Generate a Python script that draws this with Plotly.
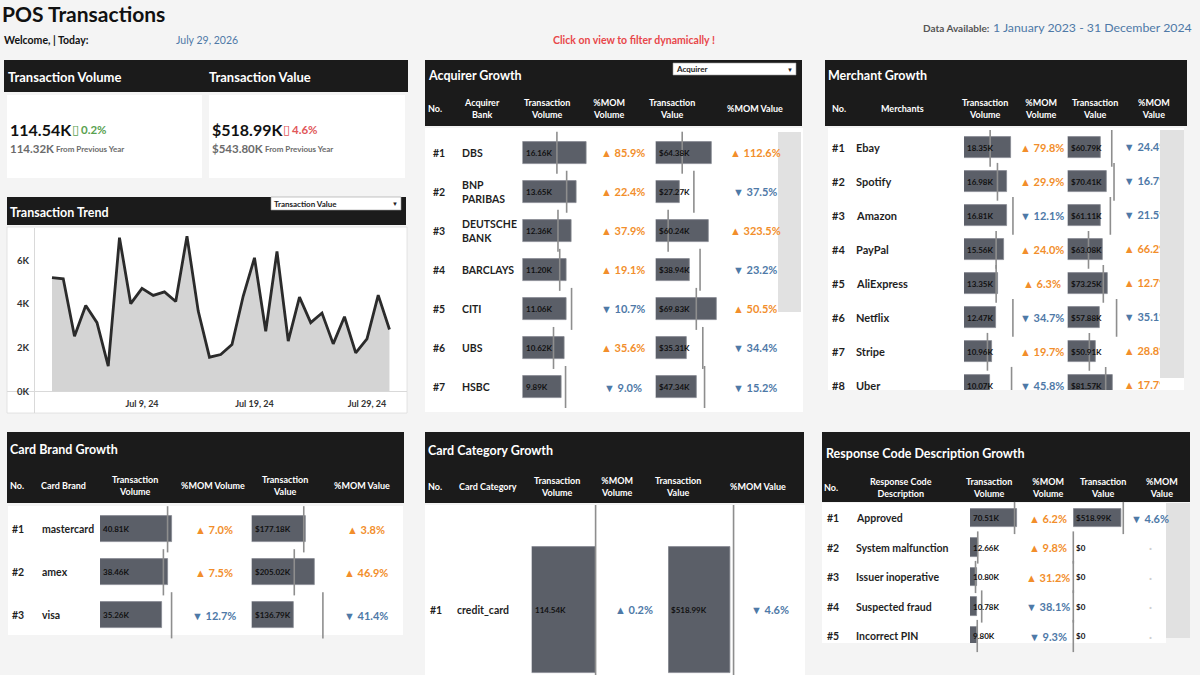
import plotly.graph_objects as go

W, H = 1200, 675
def X(p): return p / W
def Y(p): return 1 - p / H

FONT = "Lato"
ORANGE, BLUE, GREEN, RED = "#f28e2b", "#4e79a7", "#59a14f", "#e15759"
HEAD, BAR, BAR_EDGE, REF, TXT = "#1b1b1b", "#5b5f68", "#868990", "#8e8e8e", "#1f1f1f"
BG, SCROLL = "#f4f4f4", "#e1e1e1"

# ================= DATA =================
kpi_volume, kpi_volume_prev, kpi_volume_pct = 114.54, 114.32, 0.2
kpi_value, kpi_value_prev, kpi_value_pct = 518.99, 543.80, -4.6

trend_dates = ["2024-07-%02d" % d for d in range(1, 32)]
trend_values = [5210, 5160, 2530, 3940, 3150, 1160, 7040, 4020, 4720, 4400, 4560,
                4120, 7110, 3680, 1570, 1690, 2150, 4370, 6120, 2760, 6410, 2310,
                4320, 3150, 3590, 2180, 3420, 1770, 2410, 4410, 2840]
trend_tickvals = ["2024-07-09", "2024-07-19", "2024-07-29"]
trend_ticktext = ["Jul 9, 24", "Jul 19, 24", "Jul 29, 24"]
trend_ytickvals = [0, 2000, 4000, 6000]
trend_yticktext = ["0K", "2K", "4K", "6K"]

acq_names = ["DBS", "BNP<br>PARIBAS", "DEUTSCHE<br>BANK", "BARCLAYS", "CITI", "UBS", "HSBC"]
acq_vol = [16.16, 13.65, 12.36, 11.20, 11.06, 10.62, 9.89]
acq_vol_prev = [8.69, 11.15, 8.96, 9.40, 12.39, 7.83, 10.87]
acq_vol_mom = [85.9, 22.4, 37.9, 19.1, -10.7, 35.6, -9.0]
acq_val = [64.38, 27.27, 60.24, 38.94, 69.83, 35.31, 47.34]
acq_val_prev = [30.28, 43.63, 14.22, 50.70, 46.40, 53.83, 55.83]
acq_val_mom = [112.6, -37.5, 323.5, -23.2, 50.5, -34.4, -15.2]

merch_names = ["Ebay", "Spotify", "Amazon", "PayPal", "AliExpress", "Netflix", "Stripe", "Uber"]
merch_vol = [18.35, 16.98, 16.81, 15.56, 13.35, 12.47, 10.96, 10.07]
merch_vol_prev = [10.21, 13.07, 19.12, 12.55, 12.56, 19.10, 9.16, 18.58]
merch_vol_mom = [79.8, 29.9, -12.1, 24.0, 6.3, -34.7, 19.7, -45.8]
merch_val = [60.79, 70.41, 61.11, 63.08, 73.25, 57.88, 50.91, 81.57]
merch_val_prev = [80.41, 84.53, 77.85, 37.95, 65.00, 89.18, 39.53, 69.30]
merch_val_mom = [-24.4, -16.7, -21.5, 66.2, 12.7, -35.1, 28.8, 17.7]

brand_names = ["mastercard", "amex", "visa"]
brand_vol = [40.81, 38.46, 35.26]
brand_vol_prev = [38.14, 35.78, 40.39]
brand_vol_mom = [7.0, 7.5, -12.7]
brand_val = [177.18, 205.02, 136.79]
brand_val_prev = [170.69, 139.56, 233.43]
brand_val_mom = [3.8, 46.9, -41.4]

cat_names = ["credit_card"]
cat_vol = [114.54]
cat_vol_prev = [114.32]
cat_vol_mom = [0.2]
cat_val = [518.99]
cat_val_prev = [543.80]
cat_val_mom = [-4.6]

resp_names = ["Approved", "System malfunction", "Issuer inoperative", "Suspected fraud", "Incorrect PIN"]
resp_vol = [70.51, 12.66, 10.80, 10.78, 9.80]
resp_vol_prev = [66.39, 11.53, 8.23, 17.42, 10.80]
resp_vol_mom = [6.2, 9.8, 31.2, -38.1, -9.3]
resp_val = [518.99, 0, 0, 0, 0]
resp_val_prev = [543.80, 0, 0, 0, 0]
resp_val_mom = [-4.6, None, None, None, None]

# ================= HELPERS =================
fig = go.Figure()
shapes, anns, axes = [], [], {}


def rect(x0, y0, x1, y1, fill, lw=0, lc="rgba(0,0,0,0)"):
    shapes.append(dict(type="rect", xref="paper", yref="paper", layer="below",
                       x0=X(x0), x1=X(x1), y0=Y(y1), y1=Y(y0),
                       fillcolor=fill, line=dict(width=lw, color=lc)))


def seg(x0, y0, x1, y1, color, w=1):
    shapes.append(dict(type="line", xref="paper", yref="paper", layer="below",
                       x0=X(x0), x1=X(x1), y0=Y(y0), y1=Y(y1),
                       line=dict(color=color, width=w)))


def txt(x, y, s, size=10, color=TXT, bold=False, anchor="left",
        xref="paper", yref="paper", xshift=0, family=FONT, align=None):
    anns.append(dict(text=s, x=X(x) if xref == "paper" else x,
                     y=Y(y) if yref == "paper" else y, xref=xref, yref=yref,
                     xanchor=anchor, yanchor="middle", showarrow=False,
                     align=align or ("left" if anchor == "left" else anchor),
                     borderpad=0, borderwidth=0, xshift=xshift,
                     font=dict(size=size, color=color, family=family,
                               weight="bold" if bold else "normal")))


def mom_txt(m):
    if m is None:
        return "·"
    return ("▲ " if m >= 0 else "▼ ") + f"{abs(m):.1f}%"


def mom_col(m):
    if m is None:
        return "#cfcfcf"
    return ORANGE if m >= 0 else BLUE


def vol_lab(v):
    return f"{v:.2f}K"


def val_lab(v):
    return "$0" if v == 0 else f"${v:.2f}K"


def header(x0, y0, x1, y1, title, tx, ty, cols, cy):
    rect(x0, y0, x1, y1, HEAD)
    txt(tx, ty, title, 12.5, "white", True)
    for s, cx, anc in cols:
        txt(cx, cy, s, 9, "white", True, anc)


def table(ax, names, vol, vol_prev, vol_mom, val, val_prev, val_mom, g,
          mom_colors=None, clip_val_axis=None):
    rows = list(range(len(names)))
    yr = [(g["bot"] - g["y0"]) / g["dy"], (g["top"] - g["y0"]) / g["dy"]]
    specs = ((ax, g["vol"], vol, vol_prev, vol_lab), (ax + 1, g["val"], val, val_prev, val_lab))
    for a, (x0, x1, ppk), values, prev, lab in specs:
        axes[f"xaxis{a}"] = dict(domain=[X(x0), X(x1)], range=[0, (x1 - x0) / ppk],
                                 visible=False, fixedrange=True, anchor=f"y{a}")
        axes[f"yaxis{a}"] = dict(domain=[Y(g["bot"]), Y(g["top"])], range=yr,
                                 visible=False, fixedrange=True, anchor=f"x{a}")
        fig.add_trace(go.Bar(x=values, y=rows, orientation="h", width=g["bar_h"] / g["dy"],
                             marker=dict(color=BAR, line=dict(color=BAR_EDGE, width=0.8)),
                             xaxis=f"x{a}", yaxis=f"y{a}", hoverinfo="skip", showlegend=False))
        fig.add_trace(go.Scatter(x=prev, y=rows, mode="markers",
                                 marker=dict(symbol="line-ns", size=g["ref"], color=REF,
                                             line=dict(color=REF, width=1.6)),
                                 cliponaxis=g.get("clip", False),
                                 xaxis=f"x{a}", yaxis=f"y{a}", hoverinfo="skip", showlegend=False))
        for i, v in enumerate(values):
            txt(0, i, lab(v), 8, "#111", True, xref=f"x{a}", yref=f"y{a}", xshift=3)
    fs = g["fs"]
    for i in rows:
        txt(g["rank_x"], i, f"#{i + 1}", fs, TXT, True, yref=f"y{ax}")
        txt(g["name_x"], i, names[i], fs, TXT, True, yref=f"y{ax}")
        cv = mom_colors[0] if mom_colors else mom_col(vol_mom[i])
        txt(g["mv"], i, mom_txt(vol_mom[i]), 11, cv, True, "center", yref=f"y{ax}")
        if clip_val_axis is None:
            cw = mom_colors[1] if mom_colors else mom_col(val_mom[i])
            txt(g["mw"], i, mom_txt(val_mom[i]), 11, cw, True, "center", yref=f"y{ax}")
    if clip_val_axis is not None:
        a, x0, x1 = clip_val_axis
        axes[f"xaxis{a}"] = dict(domain=[X(x0), X(x1)], range=[x0, x1], visible=False,
                                 fixedrange=True, anchor=f"y{ax}")
        fig.add_trace(go.Scatter(x=[g["mw"]] * len(rows), y=rows, mode="text",
                                 text=[mom_txt(m) for m in val_mom],
                                 textposition="middle center",
                                 textfont=dict(size=11, family=FONT, weight="bold",
                                               color=[mom_col(m) for m in val_mom]),
                                 cliponaxis=True, xaxis=f"x{a}", yaxis=f"y{ax}",
                                 hoverinfo="skip", showlegend=False))


# ================= PAGE HEADER =================
txt(2, 13, "POS Transactions", 21, "#111", True)
txt(4, 40, "Welcome, | Today:", 10.5, "#111", True)
txt(176, 40, "July 29, 2026", 10.5, BLUE)
txt(634, 40, "Click on view to filter dynamically !", 10.5, "#e8474a", True, "center")
txt(990, 28, "Data Available:", 10, "#555", True, "right")
txt(1192, 27, "1 January 2023 - 31 December 2024", 12.3, BLUE, False, "right")

# ================= KPI =================
rect(4, 60, 408, 92, HEAD)
txt(8, 77, "Transaction Volume", 13, "white", True)
txt(209, 77, "Transaction Value", 13, "white", True)
rect(7, 95, 202, 178, "white")
rect(209, 95, 405, 178, "white")
txt(10, 129, f"{kpi_volume:.2f}K", 16, "#111", True)
txt(72, 129, "▯", 13, GREEN, family="DejaVu Sans")
txt(81, 129, f"{abs(kpi_volume_pct):.1f}%", 11.5, GREEN, True)
txt(10, 148, f"{kpi_volume_prev:.2f}K", 11.5, "#6b6b6b", True)
txt(56, 149, "From Previous Year", 8, "#6b6b6b", True)
txt(212, 129, f"${kpi_value:.2f}K", 16, "#111", True)
txt(283, 129, "▯", 13, RED, family="DejaVu Sans")
txt(292, 129, f"{abs(kpi_value_pct):.1f}%", 11.5, RED, True)
txt(212, 148, f"${kpi_value_prev:.2f}K", 11.5, "#6b6b6b", True)
txt(265, 149, "From Previous Year", 8, "#6b6b6b", True)

# ================= TREND =================
rect(7, 197, 406, 225, HEAD)
txt(10, 212, "Transaction Trend", 12.5, "white", True)
rect(271, 197, 401, 210, "white", 0.6, "#9a9a9a")
txt(274, 203.5, "Transaction Value", 8, "#222", True)
txt(398, 203.5, "▼", 6, "#222", False, "right")
rect(7, 227, 407, 413, "white", 0.8, "#dddddd")
seg(34.5, 228, 34.5, 413, "#d9d9d9", 1)
seg(7, 391.5, 407, 391.5, "#d9d9d9", 1)
fig.add_trace(go.Scatter(x=trend_dates, y=trend_values, mode="lines", fill="tozeroy",
                         fillcolor="#d4d4d4", line=dict(color="#2b2b2b", width=2.8),
                         xaxis="x", yaxis="y", hoverinfo="skip", showlegend=False))
axes["xaxis"] = dict(domain=[X(35), X(404)], type="date",
                     range=["2024-06-29 11:45", "2024-08-01 07:00"],
                     tickvals=trend_tickvals, ticktext=trend_ticktext,
                     tickfont=dict(size=9, color="#333", family=FONT, weight="bold"),
                     showgrid=False, zeroline=False, showline=False, ticks="",
                     ticklabelstandoff=5, fixedrange=True, anchor="y")
axes["yaxis"] = dict(domain=[Y(391.5), Y(228)], range=[0, 7483],
                     tickvals=trend_ytickvals, ticktext=trend_yticktext,
                     tickfont=dict(size=9.5, color="#333", family=FONT, weight="bold"),
                     showgrid=False, zeroline=False, showline=False, ticks="",
                     ticklabelstandoff=5, fixedrange=True, anchor="x")

# ================= ACQUIRER =================
rect(425, 128, 803, 412, "white")
rect(778, 132, 801, 312, SCROLL)
header(425, 60, 802, 126, "Acquirer Growth", 428, 76,
       [("No.", 428, "left"), ("Acquirer<br>Bank", 482, "center"),
        ("Transaction<br>Volume", 546.5, "center"), ("%MOM<br>Volume", 609, "center"),
        ("Transaction<br>Value", 672, "center"), ("%MOM Value", 755, "center")], 109)
rect(673, 63, 796, 75, "white", 0.6, "#9a9a9a")
txt(676, 69, "Acquirer", 8, "#222", True)
txt(793, 69, "▼", 6, "#222", False, "right")
table(2, acq_names, acq_vol, acq_vol_prev, acq_vol_mom, acq_val, acq_val_prev, acq_val_mom,
      dict(y0=152.7, dy=39.05, top=130, bot=410, vol=(522.5, 610, 3.96),
           val=(655.7, 745, 0.875), bar_h=22, ref=30, rank_x=432.5, name_x=462,
           mv=622.5, mw=755, fs=10.5))

# ================= MERCHANT =================
rect(828, 128, 1184, 390, "white")
rect(1160, 130, 1184, 378, SCROLL)
header(825, 60, 1187, 126, "Merchant Growth", 828, 75,
       [("No.", 832, "left"), ("Merchants", 903, "center"),
        ("Transaction<br>Volume", 985, "center"), ("%MOM<br>Volume", 1041, "center"),
        ("Transaction<br>Value", 1095, "center"), ("%MOM<br>Value", 1154, "center")], 108)
table(4, merch_names, merch_vol, merch_vol_prev, merch_vol_mom, merch_val, merch_val_prev,
      merch_val_mom,
      dict(y0=147.8, dy=34.0, top=130, bot=390, vol=(964, 1030, 2.56),
           val=(1067.7, 1125, 0.548), bar_h=21, ref=27, rank_x=832, name_x=856,
           mv=1041.5, mw=1146, fs=11, clip=True),
      clip_val_axis=(12, 1100, 1160))

# ================= CARD BRAND =================
rect(8, 506, 403, 635, "white")
header(7, 432, 404, 503, "Card Brand Growth", 10, 449,
       [("No.", 10, "left"), ("Card Brand", 63, "center"),
        ("Transaction<br>Volume", 135, "center"), ("%MOM Volume", 213, "center"),
        ("Transaction<br>Value", 285, "center"), ("%MOM Value", 362, "center")], 485)
table(6, brand_names, brand_vol, brand_vol_prev, brand_vol_mom, brand_val, brand_val_prev,
      brand_val_mom,
      dict(y0=529.3, dy=43, top=507, bot=635, vol=(100, 185, 1.772),
           val=(251.7, 340, 0.305), bar_h=26, ref=33, rank_x=12, name_x=42,
           mv=213.5, mw=366, fs=10.5))

# ================= CARD CATEGORY =================
rect(425, 505, 805, 675, "white")
header(425, 432, 804, 503, "Card Category Growth", 428, 450,
       [("No.", 428, "left"), ("Card Category", 488, "center"),
        ("Transaction<br>Volume", 557, "center"), ("%MOM<br>Volume", 617, "center"),
        ("Transaction<br>Value", 678, "center"), ("%MOM Value", 758, "center")], 486)
table(8, cat_names, cat_vol, cat_vol_prev, cat_vol_mom, cat_val, cat_val_prev, cat_val_mom,
      dict(y0=609.5, dy=170, top=505, bot=675, vol=(531.7, 620, 0.559),
           val=(668.3, 750, 0.12), bar_h=126, ref=164, rank_x=430, name_x=456.7,
           mv=633.8, mw=769.7, fs=10.5, clip=True),
      mom_colors=(BLUE, BLUE))

# ================= RESPONSE CODE =================
rect(822, 503, 1166, 643, "white")
rect(1166, 503, 1190, 638, SCROLL)
header(822, 432, 1190, 502, "Response Code Description Growth", 826, 453,
       [("No.", 824, "left"), ("Response Code<br>Description", 901, "center"),
        ("Transaction<br>Volume", 989, "center"), ("%MOM<br>Volume", 1048, "center"),
        ("Transaction<br>Value", 1103, "center"), ("%MOM<br>Value", 1162, "center")], 488)
table(10, resp_names, resp_vol, resp_vol_prev, resp_vol_mom, resp_val, resp_val_prev,
      resp_val_mom,
      dict(y0=518, dy=29.5, top=503, bot=643, vol=(970, 1035, 0.671),
           val=(1073.3, 1140, 0.0919), bar_h=18.3, ref=23, rank_x=826.7, name_x=856,
           mv=1047.5, mw=1150, fs=10.5))

fig.update_layout(width=W, height=H, autosize=False,
                  margin=dict(l=0, r=0, t=0, b=0, pad=0, autoexpand=False),
                  paper_bgcolor=BG, plot_bgcolor="rgba(0,0,0,0)", showlegend=False,
                  font=dict(family=FONT), shapes=shapes, annotations=anns,
                  bargap=0, hovermode=False, **axes)
fig.write_html("out.html", config=dict(displayModeBar=False))
